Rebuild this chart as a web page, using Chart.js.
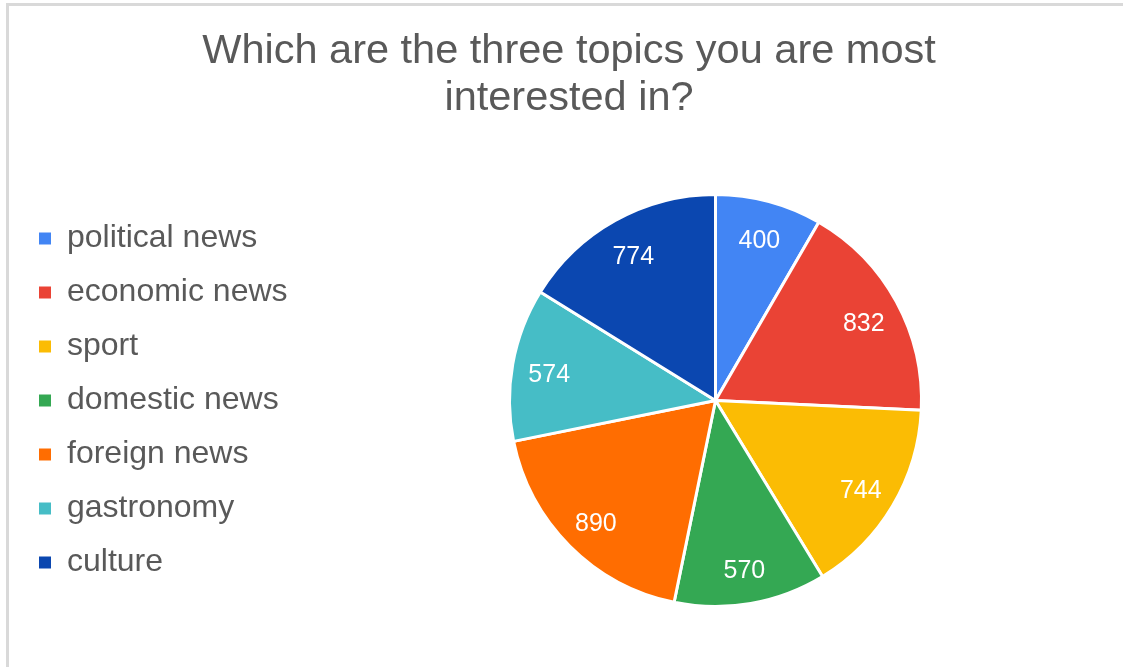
<!DOCTYPE html>
<html>
<head>
<meta charset="utf-8">
<title>Topics of interest</title>
<script src="https://cdn.jsdelivr.net/npm/chart.js@4/dist/chart.umd.min.js"></script>
<style>
	html, body { margin: 0; padding: 0; background: #fff; overflow: hidden; }
	#frame {
		position: absolute;
		left: 6px;
		top: 3px;
		width: 1114px;
		height: 661px;
		border-left: 3px solid #d9d9d9;
		border-top: 3px solid #d9d9d9;
		background: #fff;
	}
	#topics-chart { display: block; }
</style>
</head>
<body>
<div id="frame">
	<canvas id="topics-chart" width="1114" height="661"></canvas>
</div>
<script>
(function() {
	"use strict";

	var TITLE_LINES = ["Which are the three topics you are most", "interested in?"];
	var topics = ["political news", "economic news", "sport", "domestic news", "foreign news", "gastronomy", "culture"];
	var answers = [400, 832, 744, 570, 890, 574, 774];
	var sliceColors = ["#4285f4", "#ea4335", "#fbbc04", "#34a853", "#ff6d01", "#46bdc6", "#0b47b0"];

	var TEXT_GREY = "#595959";
	var FONT = "'Liberation Sans', Arial, sans-serif";
	var LEGEND_GAP = 17;

	// writes each answer count inside its slice
	var sliceValues = {
		id: "sliceValues",
		afterDatasetsDraw: function(chart) {
			var ctx = chart.ctx;
			var meta = chart.getDatasetMeta(0);
			ctx.save();
			ctx.font = "25px " + FONT;
			ctx.fillStyle = "#ffffff";
			ctx.textAlign = "center";
			ctx.textBaseline = "middle";
			meta.data.forEach(function(arc, i) {
				var p = arc.getProps(["x", "y", "startAngle", "endAngle", "outerRadius"], true);
				var mid = (p.startAngle + p.endAngle) / 2;
				var r = p.outerRadius * 0.82;
				ctx.fillText(String(answers[i]), p.x + Math.cos(mid) * r, p.y + Math.sin(mid) * r + 4);
			});
			ctx.restore();
		}
	};

	// empty layout box that keeps some room between the legend and the pie
	var legendGap = {
		id: "legendGap",
		beforeInit: function(chart) {
			Chart.layouts.addBox(chart, {
				position: "left",
				fullSize: false,
				weight: 0,
				options: {},
				width: 0,
				height: 0,
				isHorizontal: function() { return false; },
				update: function(maxWidth, maxHeight) {
					this.width = LEGEND_GAP;
					this.height = maxHeight;
				},
				draw: function() {}
			});
		}
	};

	// legend squares without the white slice outline
	function legendItems(chart) {
		var items = Chart.overrides.pie.plugins.legend.labels.generateLabels(chart);
		items.forEach(function(item) {
			item.lineWidth = 0;
		});
		return items;
	}

	document.addEventListener("DOMContentLoaded", function() {
		var ctx = document.getElementById("topics-chart").getContext("2d");

		new Chart(ctx, {
			type: "pie",
			data: {
				labels: topics,
				datasets: [{
					data: answers,
					backgroundColor: sliceColors,
					borderColor: "#ffffff",
					borderWidth: 3,
					hoverOffset: 0
				}]
			},
			options: {
				responsive: false,
				animation: false,
				layout: {
					padding: { left: 8, right: 2, top: 0, bottom: 59 }
				},
				plugins: {
					title: {
						display: true,
						text: TITLE_LINES,
						color: TEXT_GREY,
						font: { family: FONT, size: 41.5, weight: "normal", lineHeight: 47 / 41.5 },
						padding: { top: 22, bottom: 71 }
					},
					legend: {
						position: "left",
						fullSize: false,
						labels: {
							color: TEXT_GREY,
							font: { family: FONT, size: 32 },
							boxWidth: 12,
							boxHeight: 12,
							padding: 22,
							generateLabels: legendItems
						}
					},
					tooltip: { enabled: false }
				}
			},
			plugins: [legendGap, sliceValues]
		});
	});
}) ();
</script>
</body>
</html>
